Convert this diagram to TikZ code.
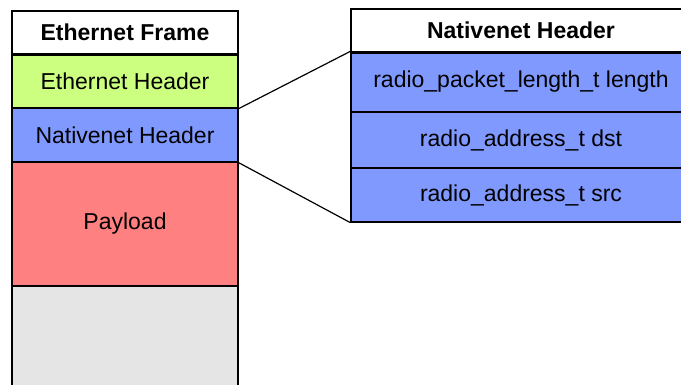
\documentclass[tikz,border=0pt]{standalone}
\usepackage{fontspec}
\setmainfont{Liberation Sans}
\definecolor{hdrgreen}{HTML}{CCFF80}
\definecolor{hdrblue}{HTML}{8099FF}
\definecolor{payred}{HTML}{FF8080}
\definecolor{sparegray}{HTML}{E5E5E5}
\tikzset{
  cell/.style={draw=black, line width=1.3pt, rectangle, inner sep=0pt,
    font=\fontsize{23}{27}\selectfont, text=black},
  leftcell/.style={cell, minimum width=226pt},
  rightcell/.style={cell, minimum width=340pt},
  titlecell/.style={font=\fontsize{23}{27}\selectfont\bfseries, fill=white},
  sep/.style={line width=2.2pt},
  link/.style={draw=black, line width=1.2pt},
}
\begin{document}
\begin{tikzpicture}[x=1pt, y=-1pt]
  \useasboundingbox (0,0) rectangle (681,385);
  \fill[white] (0,0) rectangle (681,385);
  \clip (0,0) rectangle (681,385);

  % Ethernet frame column
  \node[leftcell, titlecell, minimum height=43pt] (eframe) at (125,32.5) {Ethernet Frame};
  \node[leftcell, fill=hdrgreen, minimum height=54pt] (ethhdr) at (125,81) {Ethernet Header};
  \node[leftcell, fill=hdrblue, minimum height=54pt] (nathdr) at (125,135) {Nativenet Header};
  \node[leftcell, fill=payred, minimum height=124pt] (payload) at (125,224) {Payload};
  \node[leftcell, fill=sparegray, minimum height=120pt] (spare) at (125,346) {};
  \draw[sep] (eframe.south west) -- (eframe.south east);

  % Nativenet header detail column
  \node[rightcell, titlecell, minimum height=43pt] (nhtitle) at (521,30.5) {Nativenet Header};
  \node[rightcell, fill=hdrblue, minimum height=60pt] (flen) at (521,82) {radio\_packet\_length\_t length};
  \node[rightcell, fill=hdrblue, minimum height=56pt] (fdst) at (521,140) {radio\_address\_t dst};
  \node[rightcell, fill=hdrblue, minimum height=54pt] (fsrc) at (521,195) {radio\_address\_t src};
  \draw[sep] (nhtitle.south west) -- (nhtitle.south east);

  % Expansion lines
  \draw[link] (ethhdr.south east) -- (flen.north west);
  \draw[link] (nathdr.south east) -- (fsrc.south west);
\end{tikzpicture}
\end{document}
